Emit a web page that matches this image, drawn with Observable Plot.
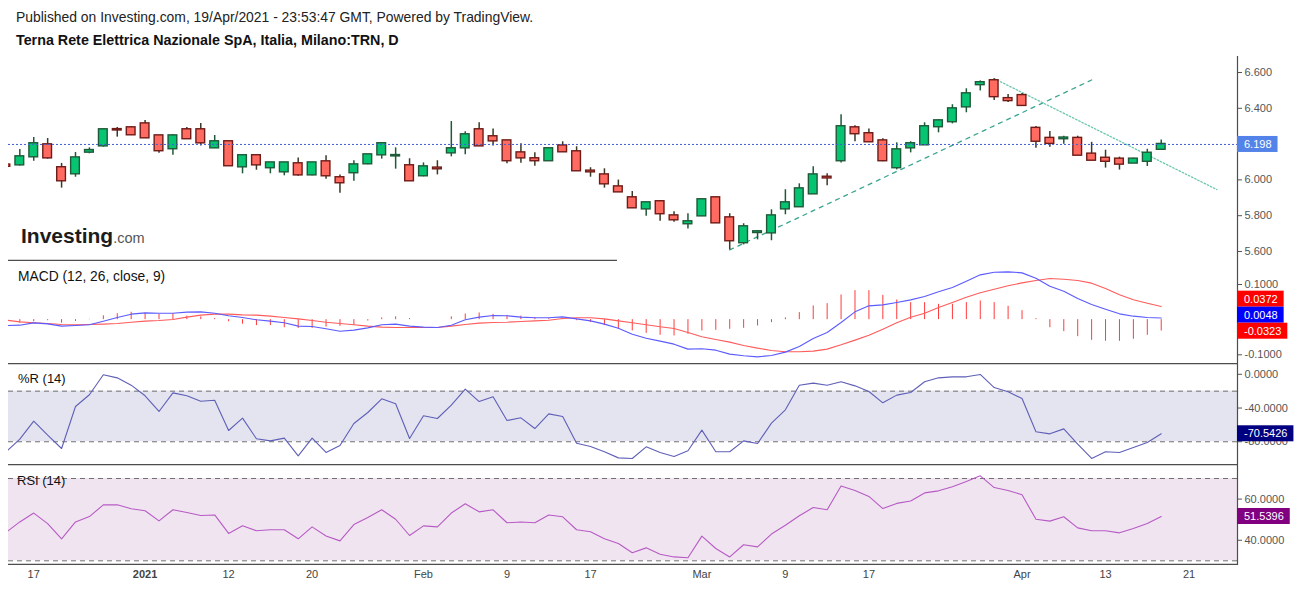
<!DOCTYPE html>
<html>
<head>
<meta charset="utf-8">
<script src="https://cdn.jsdelivr.net/npm/d3@7"></script>
<script src="https://cdn.jsdelivr.net/npm/@observablehq/plot@0.6"></script>
<style>
  html,body{margin:0;padding:0;background:#fff;}
  #root{position:relative;width:1299px;height:590px;overflow:hidden;font-family:Arial,"Liberation Sans",sans-serif;background:#fff;}
  .txt{position:absolute;white-space:nowrap;color:#111;z-index:2;}
  svg{z-index:1;}
</style>
</head>
<body>
<div id="root">
  <div class="txt" style="left:16px;top:9px;font-size:13.9px;color:#222">Published on Investing.com, 19/Apr/2021 - 23:53:47 GMT, Powered by TradingView.</div>
  <div class="txt" style="left:16px;top:32px;font-size:14.3px;font-weight:bold;color:#111">Terna Rete Elettrica Nazionale SpA, Italia, Milano:TRN, D</div>
  <div class="txt" style="left:21px;top:224px;"><span style="font-size:21px;font-weight:bold;color:#1c1c1c">Investing</span><span style="font-size:14.5px;color:#555">.com</span></div>
  <div class="txt" style="left:18px;top:269px;font-size:13.8px;">MACD (12, 26, close, 9)</div>
  <div class="txt" style="left:18px;top:371px;font-size:13px;">%R (14)</div>
  <div class="txt" style="left:17px;top:473px;font-size:13px;">RSI (14)</div>
</div>
<script>
// ---------------- DATA ----------------
const dates = [
  "2020-12-15","2020-12-16","2020-12-17","2020-12-18","2020-12-21","2020-12-22","2020-12-23","2020-12-28","2020-12-29","2020-12-30",
  "2021-01-04","2021-01-05","2021-01-06","2021-01-07","2021-01-08","2021-01-11","2021-01-12","2021-01-13","2021-01-14","2021-01-15",
  "2021-01-18","2021-01-19","2021-01-20","2021-01-21","2021-01-22","2021-01-25","2021-01-26","2021-01-27","2021-01-28","2021-01-29",
  "2021-02-01","2021-02-02","2021-02-03","2021-02-04","2021-02-05","2021-02-08","2021-02-09","2021-02-10","2021-02-11","2021-02-12",
  "2021-02-15","2021-02-16","2021-02-17","2021-02-18","2021-02-19","2021-02-22","2021-02-23","2021-02-24","2021-02-25","2021-02-26",
  "2021-03-01","2021-03-02","2021-03-03","2021-03-04","2021-03-05","2021-03-08","2021-03-09","2021-03-10","2021-03-11","2021-03-12",
  "2021-03-15","2021-03-16","2021-03-17","2021-03-18","2021-03-19","2021-03-22","2021-03-23","2021-03-24","2021-03-25","2021-03-26",
  "2021-03-29","2021-03-30","2021-03-31","2021-04-01","2021-04-06","2021-04-07","2021-04-08","2021-04-09","2021-04-12","2021-04-13",
  "2021-04-14","2021-04-15","2021-04-16","2021-04-19"
];
const futureDates = ["2021-04-20","2021-04-21","2021-04-22","2021-04-23","2021-04-26","2021-04-27"];

const open = [6.083,6.084,6.129,6.196,6.068,6.034,6.155,6.190,6.281,6.291,
  6.313,6.246,6.174,6.280,6.280,6.179,6.213,6.073,6.135,6.068,
  6.045,6.090,6.028,6.101,6.012,6.040,6.090,6.140,6.134,6.079,
  6.023,6.066,6.151,6.179,6.280,6.241,6.218,6.151,6.118,6.107,
  6.190,6.157,6.049,6.028,5.961,5.900,5.838,5.878,5.799,5.755,
  5.799,5.900,5.788,5.649,5.706,5.704,5.838,5.850,5.922,6.015,
  6.107,6.291,6.258,6.218,6.068,6.179,6.196,6.297,6.325,6.408,
  6.532,6.554,6.454,6.471,6.288,6.232,6.230,6.232,6.144,6.121,
  6.116,6.094,6.104,6.171];
const high = [6.088,6.170,6.237,6.231,6.092,6.153,6.179,6.282,6.293,6.298,
  6.332,6.248,6.254,6.293,6.315,6.248,6.215,6.142,6.137,6.097,
  6.097,6.123,6.097,6.135,6.028,6.107,6.142,6.209,6.179,6.118,
  6.095,6.107,6.326,6.269,6.319,6.285,6.220,6.202,6.151,6.176,
  6.213,6.185,6.068,6.062,5.999,5.935,5.874,5.883,5.822,5.811,
  5.891,5.902,5.811,5.755,5.717,5.833,5.945,5.978,6.073,6.034,
  6.364,6.302,6.285,6.230,6.207,6.213,6.319,6.336,6.420,6.509,
  6.553,6.565,6.477,6.482,6.299,6.271,6.244,6.244,6.210,6.166,
  6.127,6.121,6.171,6.223];
const low = [6.070,6.077,6.104,6.116,5.954,6.015,6.146,6.183,6.239,6.250,
  6.233,6.149,6.138,6.228,6.190,6.177,6.077,6.034,6.054,6.034,
  6.023,6.021,6.023,6.004,5.926,5.993,6.084,6.116,6.060,5.993,
  6.017,6.028,6.129,6.140,6.188,6.190,6.090,6.093,6.076,6.105,
  6.155,6.049,6.015,5.954,5.930,5.842,5.797,5.769,5.764,5.725,
  5.797,5.758,5.609,5.637,5.665,5.660,5.805,5.848,5.920,5.967,
  6.095,6.213,6.211,6.101,6.056,6.151,6.194,6.263,6.313,6.375,
  6.497,6.443,6.432,6.410,6.177,6.182,6.199,6.136,6.108,6.066,
  6.055,6.092,6.075,6.170];
const close = [6.076,6.129,6.202,6.123,5.995,6.123,6.164,6.280,6.279,6.252,
  6.235,6.163,6.246,6.230,6.207,6.213,6.079,6.135,6.084,6.095,
  6.095,6.028,6.095,6.023,5.984,6.084,6.140,6.202,6.136,5.995,
  6.073,6.062,6.174,6.252,6.190,6.218,6.107,6.123,6.107,6.174,
  6.157,6.051,6.045,5.978,5.933,5.844,5.872,5.811,5.777,5.766,
  5.889,5.760,5.660,5.738,5.710,5.799,5.872,5.950,6.028,6.011,
  6.297,6.258,6.213,6.107,6.168,6.202,6.297,6.330,6.397,6.481,
  6.543,6.465,6.443,6.416,6.216,6.204,6.234,6.138,6.110,6.104,
  6.088,6.116,6.149,6.198];

const macdLine = [-0.0166,-0.0157,-0.0091,-0.0119,-0.0185,-0.0166,-0.0147,-0.0043,0.0061,0.0156,
  0.0194,0.0184,0.0184,0.0213,0.0222,0.0184,0.0109,0.0061,-0.0005,-0.0043,
  -0.009,-0.0185,-0.0195,-0.0261,-0.0328,-0.0299,-0.0233,-0.0147,-0.0128,-0.0185,
  -0.0214,-0.0223,-0.0157,-0.0005,0.0071,0.0118,0.0109,0.0071,0.0052,0.0052,
  0.008,0.0023,-0.0034,-0.0128,-0.0242,-0.0413,-0.053,-0.0612,-0.0697,-0.0839,
  -0.083,-0.0868,-0.0981,-0.1029,-0.1058,-0.1019,-0.0924,-0.0763,-0.0536,-0.0365,
  -0.0081,0.0222,0.0393,0.0421,0.0488,0.0563,0.0658,0.0791,0.0914,0.1094,
  0.1274,0.135,0.136,0.1331,0.118,0.0952,0.081,0.0602,0.0431,0.0298,
  0.0165,0.0099,0.0061,0.0048];
const signalLine = [-0.0015,-0.0062,-0.009,-0.011,-0.0138,-0.0147,-0.0138,-0.0128,-0.011,-0.0072,
  -0.0043,-0.0024,0.0004,0.0071,0.0128,0.0156,0.0156,0.0137,0.0128,0.0099,
  0.0061,0.0023,-0.0024,-0.0072,-0.011,-0.0147,-0.0185,-0.0214,-0.0223,-0.0223,
  -0.0223,-0.0223,-0.0185,-0.0138,-0.01,-0.0081,-0.0072,-0.0052,-0.0034,-0.0015,
  0.0033,0.0052,0.0052,0.0023,-0.0034,-0.009,-0.0143,-0.0204,-0.0252,-0.0365,
  -0.0488,-0.0564,-0.064,-0.0734,-0.0811,-0.0877,-0.0915,-0.0915,-0.0896,-0.0839,
  -0.0716,-0.0583,-0.0441,-0.0271,-0.009,0.0071,0.0184,0.0346,0.0488,0.0639,
  0.0763,0.0867,0.0962,0.1047,0.1113,0.117,0.1151,0.1113,0.1038,0.0886,
  0.0706,0.0564,0.0469,0.0372];
const macdHist = [-0.003,-0.010,-0.006,-0.003,-0.010,-0.005,0.001,0.011,0.017,0.021,
  0.018,0.015,0.017,0.010,0.008,0.003,-0.006,-0.013,-0.017,-0.017,
  -0.023,-0.025,-0.025,-0.021,-0.019,-0.017,-0.004,0.005,0.008,0.003,
  0.000,0.000,0.008,0.016,0.019,0.015,0.012,0.010,0.005,0.003,
  0.002,-0.003,-0.008,-0.017,-0.027,-0.032,-0.039,-0.0446,-0.0465,-0.0417,
  -0.0322,-0.0303,-0.0275,-0.0246,-0.018,-0.0085,0.005,0.020,0.0389,0.0455,
  0.0702,0.0825,0.0825,0.0692,0.0559,0.0484,0.0484,0.0436,0.0436,0.0484,
  0.0531,0.0484,0.0379,0.0256,0.003,-0.0228,-0.0341,-0.0483,-0.0588,-0.0616,
  -0.0616,-0.0559,-0.0446,-0.0323];
const williamsR = [-91.9,-76.9,-55.6,-72.2,-88.0,-38.2,-24.3,-0.5,-4.2,-12.9,
  -25.5,-44.1,-22.0,-25.5,-31.9,-30.7,-66.6,-52.0,-76.5,-78.9,
  -75.7,-96.7,-75.7,-92.7,-84.4,-58.3,-45.3,-29.1,-35.0,-76.1,
  -49.2,-52.4,-36.6,-17.6,-32.3,-26.7,-54.8,-51.6,-64.3,-46.9,
  -50.0,-81.7,-85.6,-91.9,-99.1,-99.8,-86.0,-92.7,-97.5,-90.7,
  -66.2,-91.9,-91.9,-78.9,-82.1,-57.9,-42.1,-12.9,-10.5,-12.9,
  -8.9,-13.7,-20.4,-33.8,-24.7,-21.6,-8.9,-4.2,-3.0,-3.0,
  -0.2,-15.7,-20.8,-28.7,-68.2,-70.6,-64.7,-82.8,-99.8,-91.9,
  -92.7,-86.8,-80.8,-70.5426];
const rsi = [43.8,48.9,53.2,48.1,40.7,48.9,51.5,57.2,57.2,55.3,
  54.3,49.4,54.8,53.5,52.0,52.3,43.3,47.0,44.6,45.1,
  45.1,40.7,46.5,42.1,39.7,47.6,51.0,54.8,50.2,42.3,
  47.0,46.5,53.2,57.7,53.8,54.8,48.5,48.9,48.5,52.3,
  51.4,45.1,44.1,40.7,38.4,33.9,36.3,33.2,31.9,31.5,
  42.0,36.0,31.9,37.8,36.8,43.0,47.3,51.9,55.9,54.8,
  66.4,64.2,61.3,55.4,57.9,59.1,63.0,64.0,66.0,68.5,
  71.3,65.6,64.2,62.1,50.2,49.3,51.4,46.0,44.6,44.6,
  43.6,45.7,48.1,51.5396];

const trendUp = [{d:"2021-03-03", p:5.609}, {d:"2021-04-12", p:6.558}];
const trendDown = [{d:"2021-03-30", p:6.566}, {d:"2021-04-23", p:5.946}];

const tickDates  = ["2020-12-17","2021-01-04","2021-01-12","2021-01-20","2021-02-01","2021-02-09","2021-02-17","2021-03-01","2021-03-09","2021-03-17","2021-04-01","2021-04-13","2021-04-21"];
const tickLabels = ["17","2021","12","20","Feb","9","17","Mar","9","17","Apr","13","21"];

const priceTicks = [5.6,5.8,6.0,6.4,6.6];
const macdTicks = [-0.1,0.1];
const wrTicks = [0,-40,-80];
const rsiTicks = [40,60];
const wrLevels = [-80,-20];
const rsiLevels = [30,70];

const lastPrice = 6.198;
const lastMacd = 0.0048, lastSignal = 0.0372, lastHist = -0.0323;
const lastWR = -70.5426, lastRSI = 51.5396;

// ---------------- BUILD ----------------
const axisDates = dates.concat(futureDates);
const idx = d => axisDates.indexOf(d);

const candles = dates.map((d,k)=>({i:idx(d), open:open[k], high:high[k], low:low[k], close:close[k], up: close[k] >= open[k]}));
const ind = dates.map((d,k)=>({i:idx(d), macd:macdLine[k], signal:signalLine[k], hist:macdHist[k], wr:williamsR[k], rsi:rsi[k]}));
const ticks = tickDates.map((d,k)=>({i:idx(d), label:tickLabels[k]}));

const FONT = 'Arial, "Liberation Sans", sans-serif';
const W = 1299, ML = 8, MR = 62;
const X_DOMAIN = [0.187, 88.48];
const root = document.getElementById("root");

const ctx = document.createElement("canvas").getContext("2d");
ctx.font = "11px " + FONT;
const tw = t => ctx.measureText(t).width;

const NS = "http://www.w3.org/2000/svg";
function line(x1,y1,x2,y2,stroke="#4d4d4d",w=1.2){
  const l = document.createElementNS(NS,"line");
  l.setAttribute("x1",x1); l.setAttribute("y1",y1); l.setAttribute("x2",x2); l.setAttribute("y2",y2);
  l.setAttribute("stroke",stroke); l.setAttribute("stroke-width",w);
  return l;
}
const axisLine = (index, scales, values, dims) => {
  const x = dims.width - dims.marginRight + 0.5;
  return line(x, 0, x, dims.height - dims.marginBottom, "#4d4d4d", 1.2);
};
const topRule = (index, scales, values, dims) => line(dims.marginLeft, 0.6, dims.width - dims.marginRight, 0.6);
const bottomRule = (frac) => (index, scales, values, dims) => {
  const y = dims.height - dims.marginBottom - 0.6;
  const x2 = dims.marginLeft + frac * (dims.width - dims.marginRight - dims.marginLeft);
  return line(dims.marginLeft, y, x2, y);
};
function tag(value, text, bg, dy=0){
  return (index, scales, values, dims) => {
    const x0 = dims.width - dims.marginRight;
    const y = scales.y(value) + dy;
    const g = document.createElementNS(NS,"g");
    const r = document.createElementNS(NS,"rect");
    r.setAttribute("x", x0); r.setAttribute("y", y - 8);
    r.setAttribute("width", tw(text) + 13); r.setAttribute("height", 16);
    r.setAttribute("fill", bg);
    const t = document.createElementNS(NS,"text");
    t.setAttribute("x", x0 + 7); t.setAttribute("y", y); t.setAttribute("dy","0.36em");
    t.setAttribute("text-anchor","start");
    t.setAttribute("fill","#fff"); t.setAttribute("font-size", 11);
    t.textContent = text;
    g.appendChild(r); g.appendChild(t);
    return g;
  };
}
const fmt = n => d => d.toFixed(n);
function yAxis(ticks, n){
  return Plot.axisY({anchor:"right", ticks, tickFormat: fmt(n), tickSize:4, tickPadding:3, label:null, fontSize:11});
}

function panel({top, height, yDomain, marks, marginBottom=0}){
  const svg = Plot.plot({
    width: W, height, marginLeft: ML, marginRight: MR, marginTop: 0, marginBottom,
    x: {type:"linear", domain: X_DOMAIN, axis: null},
    y: {type:"linear", domain: yDomain},
    color: {type:"identity"},
    style: {fontFamily: FONT, fontSize: "11px", color: "#555", background: "transparent", overflow: "visible"},
    marks
  });
  svg.style.position = "absolute";
  svg.style.left = "0px";
  svg.style.top = top + "px";
  svg.style.maxWidth = "none";
  root.appendChild(svg);
  return svg;
}

const upFill = "#06c472", upStroke = "#1f5a38", dnFill = "#ff6b61", dnStroke = "#6e1b17";

// Price panel
panel({
  top: 56, height: 205, yDomain: [5.5441, 6.6894],
  marks: [
    Plot.line(trendUp, {x: d=>idx(d.d), y:"p", stroke:"#3aa58f", strokeWidth:1.3, strokeDasharray:"4,5", clip:true}),
    Plot.line(trendDown, {x: d=>idx(d.d), y:"p", stroke:"#6cc6ae", strokeWidth:1.3, strokeDasharray:"1.5,2", clip:true}),
    Plot.ruleX(candles, {x:"i", y1:"low", y2:"high", stroke: d => d.up ? upStroke : "#3a3a26", strokeWidth:1.5, clip:true}),
    Plot.rect(candles, {x1: d=>d.i-0.5, x2: d=>d.i+0.5, insetLeft:2.6, insetRight:2.6, insetTop:-0.5, insetBottom:-0.5,
      y1:"open", y2:"close", fill: d => d.up ? upFill : dnFill, stroke: d => d.up ? upStroke : dnStroke, strokeWidth:1.4, clip:true}),
    Plot.ruleY([lastPrice], {stroke:"#3f5fd8", strokeWidth:1, strokeDasharray:"2,2"}),
    yAxis(priceTicks, 3),
    axisLine,
    bottomRule(0.4955),
    tag(lastPrice, lastPrice.toFixed(3), "#5383e8")
  ]
});

// MACD panel
panel({
  top: 261, height: 102, yDomain: [-0.12475, 0.16543],
  marks: [
    Plot.ruleX(ind, {x:"i", y1:0, y2:"hist", stroke:"#ff3c3c", strokeWidth:1, clip:true}),
    Plot.line(ind, {x:"i", y:"signal", stroke:"#ff5c5c", strokeWidth:1.1, clip:true}),
    Plot.line(ind, {x:"i", y:"macd", stroke:"#5b5bff", strokeWidth:1.1, clip:true}),
    yAxis(macdTicks, 4),
    axisLine,
    tag(lastSignal, lastSignal.toFixed(4), "#ff0000", -7.4),
    tag(lastMacd, lastMacd.toFixed(4), "#0000ff", -2.8),
    tag(lastHist, lastHist.toFixed(4), "#ff0000", 0.2)
  ]
});

// Williams %R panel
panel({
  top: 363, height: 101, yDomain: [-106.96, 12.807],
  marks: [
    Plot.rect([wrLevels], {y1: d=>d[0], y2: d=>d[1], fill:"#e4e4f0"}),
    Plot.ruleY(wrLevels, {stroke:"#707070", strokeWidth:1, strokeDasharray:"5,4"}),
    Plot.line(ind, {x:"i", y:"wr", stroke:"#5f5fb8", strokeWidth:1.1, clip:true}),
    yAxis(wrTicks, 4),
    axisLine,
    topRule,
    tag(lastWR, lastWR.toFixed(4), "#000080")
  ]
});

// RSI panel + x axis
panel({
  top: 464, height: 126, marginBottom: 25, yDomain: [27.73, 76.80],
  marks: [
    Plot.rect([rsiLevels], {y1: d=>d[0], y2: d=>d[1], fill:"#f1e4f1"}),
    Plot.ruleY(rsiLevels, {stroke:"#707070", strokeWidth:1, strokeDasharray:"5,4"}),
    Plot.line(ind, {x:"i", y:"rsi", stroke:"#b65bc4", strokeWidth:1.1, clip:true}),
    yAxis(rsiTicks, 4),
    axisLine,
    topRule,
    bottomRule(1),
    Plot.text(ticks.filter(d => !/^\d{4}$/.test(d.label)), {x:"i", text:"label", frameAnchor:"bottom", dy:12, fontSize:11, fill:"#444"}),
    Plot.text(ticks.filter(d => /^\d{4}$/.test(d.label)), {x:"i", text:"label", frameAnchor:"bottom", dy:12, fontSize:11, fontWeight:"bold", fill:"#444"}),
    tag(lastRSI, lastRSI.toFixed(4), "#800080")
  ]
});
</script>
</body>
</html>
